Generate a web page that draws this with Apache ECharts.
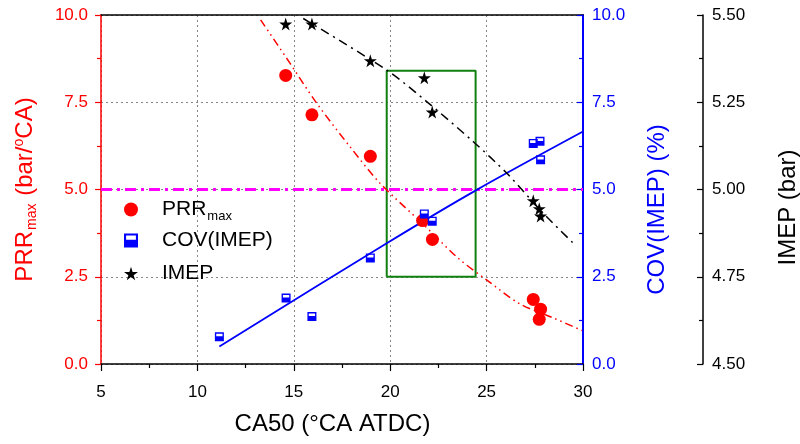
<!DOCTYPE html>
<html>
<head>
<meta charset="utf-8">
<script src="https://cdn.jsdelivr.net/npm/echarts@6/dist/echarts.min.js"></script>
<style>
html,body{margin:0;padding:0;background:#fff;}
#chart{width:800px;height:444px;}
</style>
</head>
<body>
<div id="chart"></div>
<script>
// ---- data ----
const caPRR = [14.58, 15.94, 18.97, 21.68, 22.19, 27.42, 27.80, 27.73];
const prrValues = [8.27, 7.14, 5.95, 4.11, 3.57, 1.85, 1.57, 1.28];

const caCOV = [11.14, 14.60, 15.94, 18.97, 21.77, 22.18, 27.42, 27.77, 27.80];
const covValues = [0.78, 1.89, 1.36, 3.04, 4.30, 4.09, 6.32, 6.38, 5.85];

const caIMEP = [14.58, 15.94, 18.97, 21.77, 22.18, 27.42, 27.73, 27.80];
const imepValues = [5.474, 5.474, 5.369, 5.320, 5.222, 4.968, 4.945, 4.924];

// fitted curves
const prrFitX = [13.28, 14.80, 16.19, 17.91, 19.47, 21.72, 23.53, 25.00, 26.73, 28.46, 29.95];
const prrFitY = [9.86, 8.62, 7.47, 6.23, 5.18, 4.00, 3.03, 2.41, 1.72, 1.32, 0.96];

const covFitX = [11.14, 19.82, 24.49, 30.0];
const covFitY = [0.50, 3.46, 4.99, 6.66];

const imepFitX = [15.49, 19.82, 21.89, 24.31, 26.04, 27.94, 29.50];
const imepFitY = [5.490, 5.342, 5.252, 5.137, 5.047, 4.932, 4.846];

// PRR limit line and highlighted window
const limitX = [5, 30];
const limitY = [5.0, 5.0];
const boxX = [19.82, 19.82, 24.43, 24.43, 19.82];
const boxY = [2.50, 8.40, 8.40, 2.50, 2.50];

const xTicks = {min: 5, max: 30, interval: 5};
const leftTicks = {min: 0, max: 10, interval: 2.5};
const imepTicks = {min: 4.5, max: 5.5, interval: 0.25};

const seriesNames = ['PRRmax', 'COV(IMEP)', 'IMEP'];

// ---- build ----
const zip = (xs, ys) => xs.map((x, i) => [x, ys[i]]);
const FONT = "'Liberation Sans', Arial, sans-serif";
const starPath = 'path://M50,0 L61,35 L98,35 L68,57 L79,91 L50,70 L21,91 L32,57 L2,35 L39,35 Z';
const halfSquare = 'path://M0,0H10V10H0Z M1.5,1.5V4.5H8.5V1.5Z';

const chart = echarts.init(document.getElementById('chart'), null, {renderer: 'canvas'});

const legendTops = [199, 230, 263];
const legends = seriesNames.map((nm, i) => ({
  data: [nm],
  orient: 'vertical',
  left: 124,
  top: legendTops[i],
  padding: 0,
  itemWidth: 14,
  itemHeight: 14,
  textStyle: {
    fontFamily: FONT, fontSize: 21, color: '#000', padding: [0, 0, 0, 19],
    rich: {
      a: {fontFamily: FONT, fontSize: 21, color: '#000'},
      b: {fontFamily: FONT, fontSize: 13, color: '#000', padding: [14, 0, 0, 1]}
    }
  },
  formatter: function (name) {
    return name === 'PRRmax' ? '{a|PRR}{b|max}' : name;
  }
}));

const option = {
  backgroundColor: '#ffffff',
  animation: false,
  textStyle: {fontFamily: FONT},
  grid: {left: 101, right: 217, top: 15, bottom: 80, containLabel: false, outerBoundsMode: 'none'},
  legend: legends,
  xAxis: [{
    type: 'value',
    min: xTicks.min, max: xTicks.max, interval: xTicks.interval,
    name: 'CA50 (°CA ATDC)',
    nameLocation: 'middle',
    nameGap: 48,
    nameTextStyle: {fontFamily: FONT, fontSize: 24, color: '#000', padding: [0, 19, 0, 0]},
    axisLine: {show: true, onZero: false, lineStyle: {color: '#000', width: 1.5}},
    axisTick: {show: true, inside: false, length: 7, lineStyle: {color: '#000', width: 1.2}},
    minorTick: {show: true, splitNumber: 2, length: 4, lineStyle: {color: '#000', width: 1.2}},
    axisLabel: {fontFamily: FONT, fontSize: 17, color: '#000', margin: 20},
    splitLine: {show: true, lineStyle: {color: '#888', type: [2, 3], width: 1}}
  }, {
    type: 'value', position: 'top',
    min: xTicks.min, max: xTicks.max, interval: xTicks.interval,
    axisLine: {show: true, onZero: false, lineStyle: {color: '#000', width: 1.5}},
    axisTick: {show: false}, axisLabel: {show: false}, splitLine: {show: false}
  }],
  yAxis: [{
    type: 'value', position: 'left',
    min: leftTicks.min, max: leftTicks.max, interval: leftTicks.interval,
    name: '{a|PRR}{b|max}{a| (bar/}{c|o}{a|CA)}',
    nameLocation: 'middle', nameRotate: 90, nameGap: 62,
    nameTextStyle: {
      fontFamily: FONT, fontSize: 24, color: '#ff0000',
      rich: {
        a: {fontFamily: FONT, fontSize: 24, color: '#ff0000'},
        b: {fontFamily: FONT, fontSize: 14, color: '#ff0000', padding: [14, 1, 0, 1]},
        c: {fontFamily: FONT, fontSize: 14, color: '#ff0000', padding: [0, 0, 12, 0]}
      }
    },
    axisLine: {show: true, onZero: false, lineStyle: {color: '#ff0000', width: 1.5}},
    axisTick: {show: true, inside: false, length: 6, lineStyle: {color: '#ff0000', width: 1.2}},
    minorTick: {show: true, splitNumber: 2, length: 4, lineStyle: {color: '#ff0000', width: 1.2}},
    axisLabel: {fontFamily: FONT, fontSize: 17, color: '#ff0000', margin: 13,
      formatter: v => v.toFixed(1)},
    splitLine: {show: true, lineStyle: {color: '#888', type: [2, 3], width: 1}}
  }, {
    type: 'value', position: 'right',
    min: leftTicks.min, max: leftTicks.max, interval: leftTicks.interval,
    name: 'COV(IMEP) (%)',
    nameLocation: 'middle', nameRotate: 90, nameGap: 62,
    nameTextStyle: {fontFamily: FONT, fontSize: 24, color: '#0000ff', padding: [0, 40, 0, 0]},
    axisLine: {show: true, onZero: false, lineStyle: {color: '#0000ff', width: 2}},
    axisTick: {show: true, inside: true, length: 6, lineStyle: {color: '#0000ff', width: 1.2}},
    minorTick: {show: true, splitNumber: 2, length: 4, lineStyle: {color: '#0000ff', width: 1.2}},
    axisLabel: {fontFamily: FONT, fontSize: 17, color: '#0000ff', margin: 9,
      formatter: v => v.toFixed(1)},
    splitLine: {show: false}
  }, {
    type: 'value', position: 'right', offset: 120,
    min: imepTicks.min, max: imepTicks.max, interval: imepTicks.interval,
    name: 'IMEP (bar)',
    nameLocation: 'middle', nameRotate: 90, nameGap: 73,
    nameTextStyle: {fontFamily: FONT, fontSize: 24, color: '#000', padding: [0, 36, 0, 0]},
    axisLine: {show: true, onZero: false, lineStyle: {color: '#000', width: 1.5}},
    axisTick: {show: true, inside: true, length: 6, lineStyle: {color: '#000', width: 1.2}},
    minorTick: {show: true, splitNumber: 2, length: 4, lineStyle: {color: '#000', width: 1.2}},
    axisLabel: {fontFamily: FONT, fontSize: 17, color: '#000', margin: 9,
      formatter: v => v.toFixed(2)},
    splitLine: {show: false}
  }],
  series: [
    {
      name: 'limit', type: 'line', yAxisIndex: 0, data: zip(limitX, limitY),
      symbol: 'none', silent: true, z: 2,
      lineStyle: {color: '#ff00ff', width: 3, type: [11, 5, 3, 5]}
    },
    {
      name: 'window', type: 'line', yAxisIndex: 0, data: zip(boxX, boxY),
      symbol: 'none', silent: true, z: 3,
      lineStyle: {color: '#108010', width: 2, type: 'solid'}
    },
    {
      name: 'prrFit', type: 'line', yAxisIndex: 0, data: zip(prrFitX, prrFitY),
      symbol: 'none', smooth: 0.3, silent: true, z: 4,
      lineStyle: {color: '#ff0000', width: 1.5, type: [8, 4, 1.5, 4, 1.5, 4]}
    },
    {
      name: 'covFit', type: 'line', yAxisIndex: 1, data: zip(covFitX, covFitY),
      symbol: 'none', smooth: 0.3, silent: true, z: 4,
      lineStyle: {color: '#0000ff', width: 1.8, type: 'solid'}
    },
    {
      name: 'imepFit', type: 'line', yAxisIndex: 2, data: zip(imepFitX, imepFitY),
      symbol: 'none', smooth: 0.3, silent: true, z: 4,
      lineStyle: {color: '#000000', width: 1.5, type: [9, 5, 2, 5]}
    },
    {
      name: 'PRRmax', type: 'scatter', yAxisIndex: 0, data: zip(caPRR, prrValues),
      symbol: 'circle', symbolSize: 13, z: 6,
      itemStyle: {color: '#ff0000', opacity: 1}
    },
    {
      name: 'COV(IMEP)', type: 'scatter', yAxisIndex: 1, data: zip(caCOV, covValues),
      symbol: halfSquare, symbolSize: 9, z: 6,
      itemStyle: {color: '#0000ff', opacity: 1}
    },
    {
      name: 'IMEP', type: 'scatter', yAxisIndex: 2, data: zip(caIMEP, imepValues),
      symbol: starPath, symbolSize: 13, z: 6,
      itemStyle: {color: '#000000', opacity: 1}
    }
  ]
};
chart.setOption(option);
</script>
</body>
</html>
